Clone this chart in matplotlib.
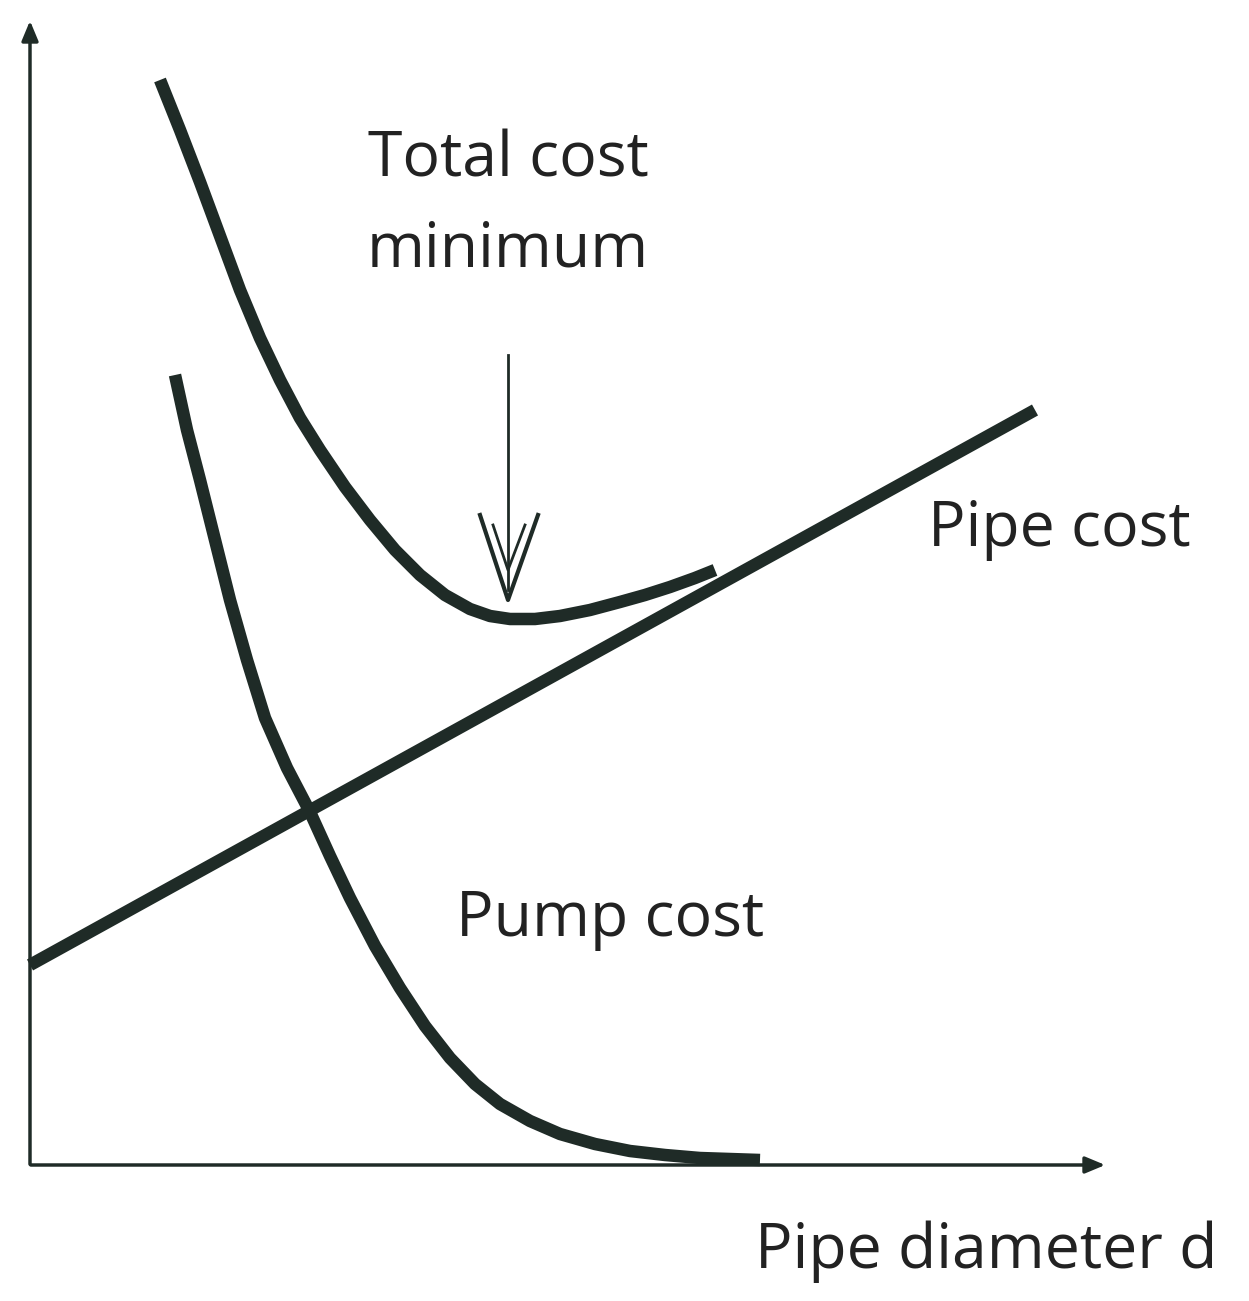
import numpy as np
import matplotlib
matplotlib.use("Agg")
import matplotlib.pyplot as plt

# schematic curves, in picture coordinates (y grows downward)
pipe_x = [30, 1035]
pipe_y = [965, 410]

pump_x = [175, 187, 200, 215, 230, 247, 265, 287, 310, 330, 350, 375, 400,
          425, 450, 475, 500, 530, 560, 595, 630, 665, 700, 760]
pump_y = [375, 430, 480, 540, 600, 660, 718, 768, 812, 856, 898, 946, 988,
          1026, 1058, 1084, 1104, 1121, 1134, 1144, 1151, 1155, 1158, 1160]

total_x = [160, 180, 200, 220, 240, 260, 280, 300, 320, 345, 370, 395, 420,
           445, 470, 490, 510, 535, 560, 590, 620, 645, 670, 695, 715]
total_y = [80, 130, 182, 236, 290, 338, 380, 418, 450, 487, 520, 550, 575,
           595, 609, 616, 619, 619, 616, 610, 602, 595, 587, 578, 570]

ink = "#1f2b27"
plt.rcParams['font.family'] = ['Open Sans', 'DejaVu Sans']

fig = plt.figure(figsize=(12.49, 13.01), dpi=100)
ax = fig.add_axes([0, 0, 1, 1])
ax.set_xlim(0, 1249)
ax.set_ylim(1301, 0)
ax.axis("off")

# axes with arrows
ax.annotate("", xy=(30, 18), xytext=(30, 1167),
            arrowprops=dict(arrowstyle="-|>,head_length=1.2,head_width=0.5", color=ink, lw=2.5))
ax.annotate("", xy=(1108, 1165), xytext=(28, 1165),
            arrowprops=dict(arrowstyle="-|>,head_length=1.2,head_width=0.5", color=ink, lw=2.5))

kw = dict(color=ink, lw=9, solid_capstyle="butt", solid_joinstyle="round")
ax.plot(pipe_x, pipe_y, **kw)
ax.plot(pump_x, pump_y, **kw)
ax.plot(total_x, total_y, **kw)

# minimum arrow with open chevron head
ax.plot([508, 508], [355, 590], color=ink, lw=2)
ax.plot([480, 508, 538], [515, 600, 515], color=ink, lw=3)
ax.plot([493, 508, 525], [525, 570, 525], color=ink, lw=2)

tkw = dict(fontsize=45, color="#222")
ax.text(508, 160, "Total cost", ha="center", va="center", **tkw)
ax.text(508, 250, "minimum", ha="center", va="center", **tkw)
ax.text(928, 530, "Pipe cost", ha="left", va="center", **tkw)
ax.text(456, 920, "Pump cost", ha="left", va="center", **tkw)
ax.text(755, 1252, "Pipe diameter d", ha="left", va="center", **tkw)

fig.savefig("out.png", dpi=100, facecolor="white")
